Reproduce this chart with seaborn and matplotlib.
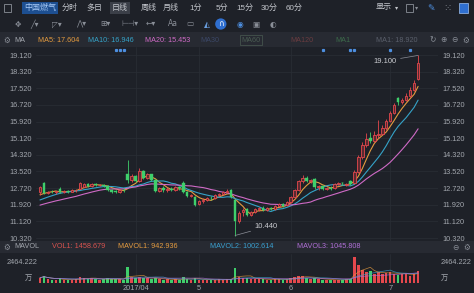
import numpy as np
import pandas as pd
import matplotlib
matplotlib.use("Agg")
import matplotlib.pyplot as plt
import seaborn as sns
from matplotlib.patches import Rectangle

# ---------------- data ----------------
pre_closes = [11.40, 11.50, 11.55, 11.60, 11.70, 11.65, 11.70, 11.75, 11.80, 11.85,
              11.80, 11.85, 11.90, 11.95, 12.00, 12.20, 12.30, 12.35, 12.40]
opens = [12.55, 12.95, 12.50, 12.55, 12.52, 12.70, 12.52, 12.58, 12.55, 12.62,
         12.70, 12.78, 12.90, 12.80, 12.92, 12.85, 12.88, 12.82, 12.65, 12.58,
         12.52, 12.65, 13.40, 13.10, 13.30, 13.05, 13.55, 13.20, 13.38, 13.10,
         12.60, 12.72, 12.62, 12.70, 12.62, 12.75, 12.95, 12.55, 12.35, 12.30,
         11.95, 12.10, 12.15, 12.25, 12.22, 12.40, 12.45, 12.52, 12.62, 12.15,
         11.15, 11.55, 11.70, 11.45, 11.58, 11.70, 11.78, 11.68, 11.78, 11.72,
         11.85, 11.95, 11.90, 12.05, 12.30, 12.65, 13.05, 13.20, 13.05, 13.15,
         12.75, 12.80, 12.68, 12.72, 12.72, 12.90, 12.98, 12.85, 13.05, 12.95,
         13.50, 14.20, 14.80, 15.15, 15.00, 15.25, 15.30, 15.60, 15.95, 16.35,
         17.05, 16.85, 16.95, 17.15, 17.45, 17.95]
highs = [12.80, 13.00, 12.60, 12.62, 12.60, 12.75, 12.62, 12.63, 12.66, 12.70,
         13.00, 12.95, 12.95, 12.95, 12.98, 12.92, 12.92, 12.88, 12.70, 12.65,
         12.70, 12.72, 14.07, 13.40, 13.35, 13.70, 13.60, 13.45, 13.42, 13.15,
         12.78, 12.80, 12.75, 12.78, 12.80, 12.82, 13.05, 12.60, 12.45, 12.35,
         12.15, 12.22, 12.30, 12.35, 12.45, 12.50, 12.58, 12.68, 12.70, 12.20,
         11.60, 11.75, 11.75, 11.62, 11.75, 11.82, 11.85, 11.80, 11.82, 11.90,
         12.00, 12.02, 12.10, 12.35, 12.70, 13.10, 13.35, 13.28, 13.15, 13.20,
         12.85, 12.85, 12.78, 12.80, 12.95, 13.02, 13.02, 12.98, 13.10, 13.60,
         14.30, 14.95, 15.35, 15.40, 15.45, 16.00, 15.75, 16.05, 16.45, 16.80,
         17.10, 17.05, 17.30, 17.60, 17.90, 19.10]
lows = [12.40, 12.45, 12.45, 12.48, 12.45, 12.48, 12.48, 12.50, 12.52, 12.55,
        12.68, 12.75, 12.75, 12.78, 12.80, 12.80, 12.78, 12.60, 12.50, 12.48,
        12.50, 12.55, 12.95, 13.00, 13.00, 13.00, 13.15, 13.15, 13.05, 12.55,
        12.52, 12.55, 12.55, 12.58, 12.60, 12.65, 12.50, 12.30, 12.28, 11.88,
        11.90, 12.02, 12.10, 12.15, 12.20, 12.32, 12.40, 12.48, 12.25, 10.44,
        11.05, 11.40, 11.40, 11.40, 11.52, 11.60, 11.62, 11.62, 11.65, 11.68,
        11.80, 11.82, 11.85, 12.00, 12.25, 12.60, 12.95, 13.00, 12.95, 12.70,
        12.65, 12.62, 12.62, 12.65, 12.70, 12.85, 12.88, 12.80, 12.85, 12.92,
        13.45, 14.10, 14.70, 14.90, 14.95, 15.15, 15.25, 15.50, 15.90, 16.30,
        16.70, 16.75, 16.90, 17.10, 17.40, 17.90]
closes = [12.75, 12.50, 12.55, 12.52, 12.58, 12.52, 12.58, 12.55, 12.62, 12.65,
          12.95, 12.90, 12.80, 12.92, 12.85, 12.88, 12.80, 12.65, 12.55, 12.52,
          12.65, 12.62, 13.10, 13.30, 13.05, 13.55, 13.20, 13.38, 13.10, 12.60,
          12.72, 12.62, 12.70, 12.62, 12.75, 12.72, 12.55, 12.35, 12.40, 11.92,
          12.10, 12.15, 12.25, 12.22, 12.40, 12.45, 12.52, 12.60, 12.30, 11.15,
          11.50, 11.65, 11.45, 11.58, 11.70, 11.78, 11.68, 11.75, 11.70, 11.85,
          11.95, 11.88, 12.05, 12.30, 12.65, 13.05, 13.20, 13.05, 13.10, 12.75,
          12.80, 12.68, 12.72, 12.70, 12.90, 12.95, 12.95, 12.90, 12.92, 13.50,
          14.20, 14.80, 15.10, 15.00, 15.25, 15.30, 15.60, 15.95, 16.35, 16.70,
          16.85, 16.95, 17.15, 17.45, 17.75, 18.75]
volumes = [500, 700, 350, 300, 280, 450, 300, 250, 300, 350,
           600, 500, 400, 450, 350, 300, 350, 450, 400, 350,
           400, 300, 1500, 600, 500, 550, 500, 450, 400, 500,
           350, 300, 350, 300, 350, 300, 550, 400, 300, 500,
           300, 280, 300, 250, 300, 350, 300, 350, 400, 1400,
           600, 500, 450, 400, 350, 400, 350, 300, 300, 350,
           350, 300, 400, 500, 600, 700, 650, 500, 400, 500,
           350, 300, 300, 280, 300, 300, 300, 350, 400, 2464,
           1700, 1200, 1000, 1100, 900, 1000, 900, 950, 1000, 900,
           800, 850, 900, 700, 900, 1100]
event_idx = [19, 20, 21, 71, 78, 79, 88, 93]
price_ticks = [10.32, 11.12, 11.92, 12.72, 13.52, 14.32, 15.12, 15.92, 16.72, 17.52, 18.32, 19.12]
date_tick_idx = [24, 40, 63, 88]
date_tick_labels = ["2017/04", "5", "6", "7"]
ma_windows = [5, 10, 20]
ma_legend = ["MA5: 17.604", "MA10: 16.946", "MA20: 15.453"]
vol_legend = ["VOL1: 1458.679", "MAVOL1: 942.936", "MAVOL2: 1002.614", "MAVOL3: 1045.808"]
vol_top_label = "2464.222"
tabs = ["分时", "多日", "日线", "周线", "月线", "1分", "5分", "15分", "30分", "60分"]
stock_name = "中国燃气"

# ---------------- style ----------------
BG = "#1e2128"
STRIP = "#272a32"
GRID = "#2a2e36"
TXT = "#a3a7ae"
RED = "#e5484d"
GREEN = "#3fcf6b"
MA_COLORS = ["#e49b3f", "#35a3c8", "#cf6ac6"]
VOL_COLORS = ["#d9534f", "#e49b3f", "#3aa0d0", "#b06fd6"]

sns.set_theme(style="dark", rc={"axes.facecolor": BG, "figure.facecolor": BG})
plt.rcParams["font.family"] = ["Liberation Sans", "Noto Sans CJK SC", "DejaVu Sans"]

W, H = 474, 293
fig = plt.figure(figsize=(W / 100, H / 100), dpi=100, facecolor=BG)


def fx(x):
    return x / W


def fy(y):
    return 1 - y / H


def ftext(x, y, s, **kw):
    kw.setdefault("fontsize", 5.3)
    kw.setdefault("color", TXT)
    kw.setdefault("va", "center")
    fig.text(fx(x), fy(y), s, **kw)


# strips
for (y0, y1) in [(32, 47), (241, 253)]:
    fig.add_artist(Rectangle((0, fy(y1)), 1, fy(y0) - fy(y1), transform=fig.transFigure,
                             facecolor=STRIP, edgecolor="none", zorder=-1))

n = len(closes)
idx = np.arange(n)
o = np.array(opens); c = np.array(closes); h = np.array(highs); l = np.array(lows)
up = c >= o

# ---------------- price axes ----------------
ax = fig.add_axes([fx(36), fy(241), fx(438) - fx(36), fy(47) - fy(241)])
ax.set_facecolor(BG)
for s in ax.spines.values():
    s.set_visible(False)

full_close = pd.Series(pre_closes + closes)
for w, col in zip(ma_windows, MA_COLORS):
    ma = full_close.rolling(w, min_periods=1).mean().iloc[len(pre_closes):].to_numpy()
    sns.lineplot(x=idx, y=ma, color=col, lw=0.8, ax=ax, zorder=2)

body_bottom = np.minimum(o, c)
body_h = np.maximum(np.abs(c - o), 0.02)
ax.vlines(idx[up], l[up], body_bottom[up], color=RED, lw=0.6, zorder=3)
ax.vlines(idx[up], (body_bottom + body_h)[up], h[up], color=RED, lw=0.6, zorder=3)
ax.vlines(idx[~up], l[~up], h[~up], color=GREEN, lw=0.6, zorder=3)
ax.bar(idx[up], body_h[up], bottom=body_bottom[up], width=0.62, facecolor="#5a2a30",
       edgecolor=RED, linewidth=0.6, zorder=4)
ax.bar(idx[~up], body_h[~up], bottom=body_bottom[~up], width=0.62, facecolor=GREEN,
       edgecolor=GREEN, linewidth=0.3, zorder=4)

ax.set_xlim(-1.0, 100.0)
ax.set_ylim(10.176, 19.505)
ax.set_yticks(price_ticks)
ax.set_yticklabels([f"{v:.3f}" for v in price_ticks])
ax.tick_params(axis="y", labelleft=True, labelright=True, length=0, labelsize=5.3,
               labelcolor=TXT, pad=3)
ax.set_xticks(date_tick_idx)
ax.tick_params(axis="x", labelbottom=False, length=0)
ax.grid(True, color=GRID, lw=0.5)
ax.set_xlabel("")
ax.set_ylabel("")

# events
ax.plot(event_idx, [0.985] * len(event_idx), ls="none", marker="s", ms=1.3,
        color="#4d8fe0", transform=ax.get_xaxis_transform(), clip_on=False)

# high / low annotations
hi_i = int(np.argmax(h)); lo_i = int(np.argmin(l))
ax.annotate(f"{h[hi_i]:.3f}", xy=(hi_i, h[hi_i]), xytext=(86.7, 18.83), ha="center", va="center",
            fontsize=5.5, color="#c9cbd0",
            arrowprops=dict(arrowstyle="-", color="#8d9099", lw=0.5, shrinkA=0.5, shrinkB=0))
ax.annotate(f"{l[lo_i]:.3f}", xy=(lo_i, l[lo_i]), xytext=(56.8, 10.85), ha="center", va="center",
            fontsize=5.5, color="#c9cbd0",
            arrowprops=dict(arrowstyle="-", color="#8d9099", lw=0.5, shrinkA=0.5, shrinkB=0))

# ---------------- volume axes ----------------
axv = fig.add_axes([fx(36), fy(283), fx(438) - fx(36), fy(254) - fy(283)])
axv.set_facecolor(BG)
for s in axv.spines.values():
    s.set_visible(False)
vdf = pd.DataFrame({"i": idx, "vol": volumes, "dir": np.where(up, "up", "down")})
sns.barplot(data=vdf, x="i", y="vol", hue="dir", palette={"up": RED, "down": GREEN},
            dodge=False, native_scale=True, errorbar=None, legend=False, saturation=1,
            width=0.62, linewidth=0, ax=axv, zorder=2)
vs = pd.Series(volumes, dtype=float)
for w, col in zip([5, 10, 20], VOL_COLORS[1:]):
    sns.lineplot(x=idx, y=vs.rolling(w, min_periods=1).mean().to_numpy(), color=col,
                 lw=0.5, alpha=0.8, ax=axv, zorder=3)
axv.set_xlim(-1.0, 100.0)
axv.set_ylim(0, 2750)
axv.set_yticks([])
axv.set_xticks(date_tick_idx)
axv.set_xticklabels(date_tick_labels)
axv.tick_params(axis="x", length=0, labelsize=5.3, labelcolor=TXT, pad=1.5)
axv.grid(True, axis="x", color=GRID, lw=0.5)
axv.set_xlabel("")
axv.set_ylabel("")

ftext(37, 262, vol_top_label, ha="right")
ftext(441, 262, vol_top_label, ha="left")
ftext(32, 278, "万", ha="right")
ftext(441, 278, "万", ha="left")

# ---------------- toolbar rows ----------------
fig.add_artist(Rectangle((fx(4), fy(12)), fx(7), fy(4) - fy(12), transform=fig.transFigure,
                         facecolor="none", edgecolor="#8a8f98", lw=0.6))
ftext(24, 8, stock_name, fontsize=5.8, color="#a9cbf7",
      bbox=dict(boxstyle="square,pad=0.25", fc="#1d4f91", ec="none"))
tab_x = [62, 86, 112, 141, 163, 189, 216, 236, 261, 286]
for t, x in zip(tabs, tab_x):
    kw = {}
    if t == "日线":
        kw["bbox"] = dict(boxstyle="square,pad=0.25", fc="#3b3f48", ec="none")
    ftext(x, 8, t, fontsize=5.8, color="#c3c6cc", **kw)
ftext(376, 8, "显示", fontsize=5.8, color="#c3c6cc")
ftext(395, 8, "▾", fontsize=4.5, color="#c3c6cc", family="DejaVu Sans")
fig.add_artist(Rectangle((fx(406), fy(12)), fx(7), fy(4) - fy(12), transform=fig.transFigure,
                         facecolor="none", edgecolor="#8a8f98", lw=0.6))
ftext(415, 8, "▾", fontsize=4.5, color="#8a8f98", family="DejaVu Sans")
ftext(427, 8, "✎", fontsize=6.5, color="#4d8fe0", family="DejaVu Sans")
ftext(443, 8, "⁙", fontsize=7, color="#8a8f98", family="DejaVu Sans")
fig.add_artist(Rectangle((fx(459), fy(13)), fx(9), fy(3) - fy(13), transform=fig.transFigure,
                         facecolor="#2f6fd0", edgecolor="#9fc2f0", lw=0.5))

icons = [("✥", 15, "#8a8f98"), ("╱▾", 30, "#8a8f98"), ("◸▾", 52, "#8a8f98"),
         ("⋀▾", 76, "#8a8f98"), ("⊞▾", 100, "#8a8f98"), ("⊢⊣▾", 121, "#8a8f98"),
         ("←▾", 146, "#8a8f98"), ("Aa", 168, "#8a8f98"), ("▭", 186, "#8a8f98"),
         ("◭", 204, "#6a9fe0"), ("∩", 218, "#ffffff"), ("◉", 237, "#4d8fe0"),
         ("▣", 252, "#8a8f98"), ("◐", 270, "#8a8f98")]
for s, x, col in icons:
    kw = {}
    if s == "∩":
        kw["bbox"] = dict(boxstyle="circle,pad=0.15", fc="#2f6fd0", ec="none")
    ftext(x, 24, s, fontsize=5.5, color=col, family="DejaVu Sans", **kw)

# ---------------- MA legend strip ----------------
ftext(3, 40, "⚙", fontsize=5.5, color="#8a8f98", family="DejaVu Sans")
ftext(14, 40, "MA", fontsize=5.2, color=TXT)
for s, x, col in zip(ma_legend, [38, 88, 145], MA_COLORS):
    ftext(x, 40, s, fontsize=5.2, color=col)
ftext(200, 40, "MA30", fontsize=5.2, color="#3b4766")
ftext(241, 40, "MA60", fontsize=5.2, color="#4a5c52",
      bbox=dict(boxstyle="square,pad=0.2", fc="none", ec="#4a5c52", lw=0.5))
ftext(290, 40, "MA120", fontsize=5.2, color="#6a3c40")
ftext(335, 40, "MA1", fontsize=5.2, color="#3c6a4a")
ftext(376, 40, "MA1: 18.920", fontsize=5.2, color="#5a5f6b")
for s, x in [("↻", 429), ("⊕", 440), ("⊖", 451), ("⚙", 462)]:
    ftext(x, 40, s, fontsize=5.5, color="#8a8f98", family="DejaVu Sans")

# ---------------- MAVOL strip ----------------
ftext(3, 247, "⚙", fontsize=5.5, color="#8a8f98", family="DejaVu Sans")
ftext(14, 247, "MAVOL", fontsize=5.2, color=TXT)
for s, x, col in zip(vol_legend, [52, 118, 210, 297], VOL_COLORS):
    ftext(x, 247, s, fontsize=5.2, color=col)
ftext(452, 247, "⊖", fontsize=5.5, color="#8a8f98", family="DejaVu Sans")
ftext(463, 247, "⚙", fontsize=5.5, color="#8a8f98", family="DejaVu Sans")

fig.savefig("out.png", dpi=100, facecolor=BG)
